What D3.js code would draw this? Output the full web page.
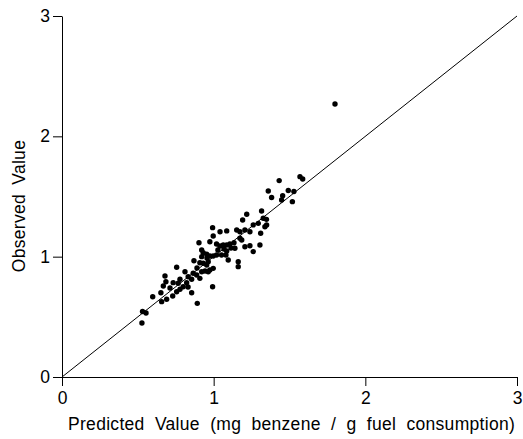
<!DOCTYPE html>
<html><head><meta charset="utf-8">
<script src="https://cdn.jsdelivr.net/npm/d3@7"></script>
<style>body{margin:0;background:#fff}svg{display:block}text{font-family:"Liberation Sans",Arial,sans-serif;fill:#000}</style>
</head><body>
<script>
const xTicks = [0, 1, 2, 3];
const yTicks = [0, 1, 2, 3];
const xTitle = "Predicted Value (mg benzene / g fuel consumption)";
const yTitle = "Observed Value";
const predicted = [0.531,0.554,0.527,0.598,0.652,0.657,0.690,0.668,0.679,0.685,0.730,0.733,0.756,0.778,0.799,0.778,0.822,0.756,0.855,0.892,0.811,0.832,0.855,0.888,0.865,0.921,0.909,0.766,0.870,0.909,0.931,0.954,0.975,0.997,0.964,0.931,0.921,0.975,0.997,1.019,1.052,1.081,1.096,1.162,0.903,0.975,1.019,1.041,1.086,1.107,1.134,0.993,1.316,1.327,1.218,1.191,0.993,1.042,1.086,1.152,1.173,1.206,1.239,1.261,1.310,1.173,1.185,1.206,1.239,1.261,1.305,1.140,1.086,0.954,0.921,1.162,1.432,1.569,1.587,1.360,1.382,1.455,1.448,1.492,1.529,1.519,1.348,1.349,1.338,1.294,1.800,0.997,0.964,1.063,1.028,1.068,1.114,0.956,0.890,0.943,0.831,0.712];
const observed = [0.544,0.532,0.449,0.667,0.700,0.626,0.646,0.756,0.839,0.792,0.673,0.784,0.709,0.729,0.750,0.812,0.784,0.912,0.700,0.612,0.875,0.833,0.812,0.848,0.862,0.875,0.820,0.779,0.966,0.950,0.945,0.931,0.889,0.903,0.958,1.033,1.000,1.005,1.005,1.014,1.014,1.014,0.972,0.917,1.116,1.124,1.105,1.089,1.097,1.105,1.116,0.750,1.380,1.319,1.352,1.305,1.241,1.207,1.214,1.222,1.207,1.222,1.207,1.264,1.194,1.153,1.139,1.083,1.091,1.042,1.097,1.070,1.047,1.020,1.056,0.958,1.632,1.665,1.646,1.546,1.492,1.507,1.471,1.550,1.541,1.457,1.310,1.263,1.249,1.277,2.269,1.172,0.875,1.097,1.056,1.064,1.072,0.989,0.906,0.881,0.748,0.740];

const W = 523, H = 439;
const svg = d3.select("body").append("svg").attr("width", W).attr("height", H);
const x = d3.scaleLinear().domain([0, 3]).range([62, 517]);
const y = d3.scaleLinear().domain([0, 3]).range([377, 16]);

const gx = svg.append("g").attr("transform", "translate(0,377)")
  .call(d3.axisBottom(x).tickValues(xTicks).tickFormat(d3.format("d")).tickSize(9).tickSizeOuter(0).tickPadding(6));
const gy = svg.append("g").attr("transform", "translate(62,0)")
  .call(d3.axisLeft(y).tickValues(yTicks).tickFormat(d3.format("d")).tickSize(9).tickSizeOuter(0).tickPadding(3));
[gx, gy].forEach(g => {
  g.select(".domain").attr("stroke", "#000").attr("stroke-width", 1);
  g.selectAll(".tick line").attr("stroke", "#000");
  g.selectAll(".tick text").style("font-size", "17.5px").style("font-family", "'Liberation Sans',Arial,sans-serif").attr("fill", "#000");
});

svg.append("line").attr("x1", x(0)).attr("y1", y(0)).attr("x2", x(3)).attr("y2", y(3))
  .attr("stroke", "#000").attr("stroke-width", 1);

svg.append("g").selectAll("circle").data(predicted.map((p, i) => [p, observed[i]]))
  .join("circle").attr("cx", d => x(d[0])).attr("cy", d => y(d[1])).attr("r", 2.7).attr("fill", "#000");

const xt = svg.append("text").attr("x", 68).attr("y", 430).style("font-size", "17.5px").style("letter-spacing", "0.3px").text(xTitle);
const nat = xt.node().getComputedTextLength();
const ws = (442 - nat) / 6;
xt.style("word-spacing", ws + "px");

svg.append("text").attr("transform", "translate(25,206) rotate(-90)").attr("text-anchor", "middle")
  .style("font-size", "17.5px").style("letter-spacing", "0.3px").style("word-spacing", "4px").text(yTitle);
</script>
</body></html>
